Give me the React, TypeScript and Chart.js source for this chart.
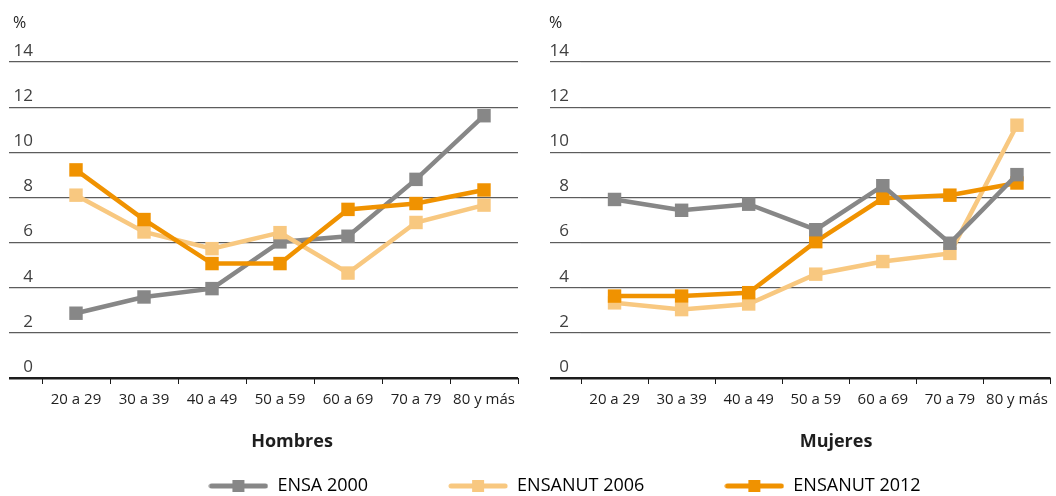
import React, { useEffect, useRef } from 'react';
import { Chart, registerables } from 'chart.js';

Chart.register(...registerables);

// ---------- data ----------
const categories = ['20 a 29', '30 a 39', '40 a 49', '50 a 59', '60 a 69', '70 a 79', '80 y más'];
const seriesNames = ['ENSA 2000', 'ENSANUT 2006', 'ENSANUT 2012'];
const seriesColors = ['#878787', '#f8c880', '#f09200'];
const yTickValues = [0, 2, 4, 6, 8, 10, 12, 14];
const panelTitles = ['Hombres', 'Mujeres'];
const unitLabel = '%';

const hombresEnsa2000 = [2.87, 3.59, 3.96, 6.03, 6.28, 8.8, 11.62];
const hombresEnsanut2006 = [8.1, 6.47, 5.73, 6.44, 4.65, 6.89, 7.66];
const hombresEnsanut2012 = [9.22, 7.02, 5.07, 5.07, 7.47, 7.73, 8.33];

const mujeresEnsa2000 = [7.91, 7.43, 7.7, 6.57, 8.52, 5.97, 9.01];
const mujeresEnsanut2006 = [3.33, 3.03, 3.28, 4.6, 5.16, 5.52, 11.2];
const mujeresEnsanut2012 = [3.63, 3.63, 3.78, 6.04, 7.96, 8.1, 8.64];

// ---------- styling ----------
const FONT = '"Open Sans", "Noto Sans", sans-serif';

const panelTextPlugin = {
  id: 'panelText',
  afterDraw(chart: any, _args: any, opts: any) {
    if (!opts || !opts.title) return;
    const ctx = chart.ctx;
    ctx.save();
    ctx.textBaseline = 'middle';
    ctx.fillStyle = '#1e1e1e';
    ctx.textAlign = 'left';
    ctx.font = `400 16px ${FONT}`;
    ctx.fillText(opts.unit, opts.unitX, opts.unitY);
    ctx.textAlign = 'center';
    ctx.font = `700 18px ${FONT}`;
    ctx.fillText(opts.title, opts.titleX, opts.titleY);
    ctx.restore();
  },
};

function panelConfig(p: {
  title: string;
  series: number[][];
  orders: number[];
  padLeft: number;
  padRight: number;
  tickLen: number;
  labelPad: number;
  unitX: number;
  titleX: number;
}): any {
  return {
    type: 'line',
    data: {
      labels: categories,
      datasets: seriesNames.map((name, i) => ({
        label: name,
        data: p.series[i],
        borderColor: seriesColors[i],
        backgroundColor: seriesColors[i],
        borderWidth: 4.5,
        tension: 0,
        pointStyle: 'rect',
        pointRadius: 9.5,
        pointHoverRadius: 9.5,
        pointBorderWidth: 0,
        pointBackgroundColor: seriesColors[i],
        pointBorderColor: seriesColors[i],
        order: p.orders[i],
        clip: false,
      })),
    },
    options: {
      responsive: false,
      animation: false,
      devicePixelRatio: 1,
      layout: { padding: { top: 62, left: p.padLeft, right: p.padRight, bottom: 0 } },
      scales: {
        x: {
          type: 'category',
          offset: true,
          afterFit: (s: any) => {
            s.height = 82;
          },
          border: { display: false },
          grid: {
            display: true,
            drawOnChartArea: false,
            drawTicks: true,
            tickLength: 6,
            offset: true,
            color: '#1c1c1c',
            lineWidth: 1,
          },
          ticks: {
            padding: 7,
            color: '#1e1e1e',
            autoSkip: false,
            maxRotation: 0,
            font: { family: FONT, size: 15 },
          },
        },
        y: {
          min: 0,
          max: 14,
          afterFit: (s: any) => {
            s.width = 33;
          },
          afterBuildTicks: (s: any) => {
            s.ticks = yTickValues.map((v) => ({ value: v }));
          },
          border: { display: false },
          grid: {
            drawTicks: true,
            tickLength: p.tickLen,
            color: (c: any) => (c.tick && c.tick.value === 0 ? '#1c1c1c' : '#5c5c5c'),
            lineWidth: (c: any) => (c.tick && c.tick.value === 0 ? 2.5 : 1.2),
          },
          ticks: {
            padding: p.labelPad,
            labelOffset: -11,
            color: '#404040',
            font: { family: FONT, size: 17, weight: '400' },
          },
        },
      },
      plugins: {
        legend: { display: false },
        tooltip: { enabled: false },
        panelText: {
          title: p.title,
          unit: unitLabel,
          unitX: p.unitX,
          unitY: 23,
          titleX: p.titleX,
          titleY: 442,
        },
      },
    },
    plugins: [panelTextPlugin],
  };
}

function makeLegendIcon(color: string): HTMLCanvasElement {
  const c = document.createElement('canvas');
  c.width = 60;
  c.height = 14;
  const ctx = c.getContext('2d')!;
  ctx.strokeStyle = color;
  ctx.lineWidth = 5;
  ctx.lineCap = 'round';
  ctx.beginPath();
  ctx.moveTo(3, 7);
  ctx.lineTo(57, 7);
  ctx.stroke();
  ctx.fillStyle = color;
  ctx.fillRect(24, 1, 12, 12);
  return c;
}

export default function App() {
  const leftRef = useRef<HTMLCanvasElement>(null);
  const rightRef = useRef<HTMLCanvasElement>(null);
  const legendRef = useRef<HTMLCanvasElement>(null);

  useEffect(() => {
    document.body.style.margin = '0';
    document.body.style.overflow = 'hidden';

    const left = new Chart(
      leftRef.current!,
      panelConfig({
        title: panelTitles[0],
        series: [hombresEnsa2000, hombresEnsanut2006, hombresEnsanut2012],
        orders: [3, 2, 1],
        padLeft: 9,
        padRight: 12,
        tickLen: 33,
        labelPad: -24,
        unitX: 13,
        titleX: 292,
      })
    );
    const right = new Chart(
      rightRef.current!,
      panelConfig({
        title: panelTitles[1],
        series: [mujeresEnsa2000, mujeresEnsanut2006, mujeresEnsanut2012],
        orders: [1, 3, 2],
        padLeft: 18,
        padRight: 3,
        tickLen: 31,
        labelPad: -19,
        unitX: 19,
        titleX: 306,
      })
    );

    const icons = seriesColors.map((c) => makeLegendIcon(c));
    const legend = new Chart(legendRef.current!, {
      type: 'line',
      data: {
        labels: [],
        datasets: seriesNames.map((name, i) => ({
          label: name,
          data: [],
          borderColor: seriesColors[i],
          backgroundColor: seriesColors[i],
        })),
      },
      options: {
        responsive: false,
        animation: false,
        devicePixelRatio: 1,
        layout: { padding: { top: 397, left: 73, right: 0, bottom: 0 } },
        scales: { x: { display: false }, y: { display: false } },
        plugins: {
          tooltip: { enabled: false },
          legend: {
            display: true,
            position: 'top',
            align: 'center',
            maxHeight: 200,
            labels: {
              usePointStyle: true,
              pointStyleWidth: 60,
              padding: 80,
              color: '#111111',
              font: { family: FONT, size: 18 },
              generateLabels: (chart: any) =>
                chart.data.datasets.map((ds: any, i: number) => ({
                  text: ds.label,
                  fillStyle: seriesColors[i],
                  strokeStyle: seriesColors[i],
                  lineWidth: 0,
                  pointStyle: icons[i],
                  hidden: false,
                  datasetIndex: i,
                })),
            },
          },
        },
      } as any,
    } as any);

    return () => {
      left.destroy();
      right.destroy();
      legend.destroy();
    };
  }, []);

  return (
    <div style={{ position: 'relative', width: 1056, height: 496, overflow: 'hidden' }}>
      <canvas
        ref={leftRef}
        width={530}
        height={460}
        style={{ position: 'absolute', left: 0, top: 0, width: 530, height: 460 }}
      />
      <canvas
        ref={rightRef}
        width={530}
        height={460}
        style={{ position: 'absolute', left: 530, top: 0, width: 530, height: 460 }}
      />
      <canvas
        ref={legendRef}
        width={1056}
        height={600}
        style={{ position: 'absolute', left: 0, top: 0, width: 1056, height: 600, pointerEvents: 'none' }}
      />
    </div>
  );
}
